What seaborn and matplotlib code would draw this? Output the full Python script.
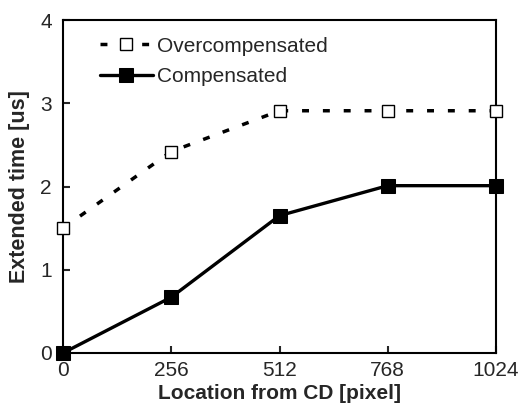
import matplotlib
matplotlib.use('Agg')
import matplotlib.pyplot as plt
import seaborn as sns
import pandas as pd

# data
location = [0, 256, 512, 768, 1024]
overcompensated = [1.50, 2.42, 2.91, 2.91, 2.91]
compensated = [0.0, 0.67, 1.65, 2.01, 2.01]
x_ticks = [0, 256, 512, 768, 1024]
y_ticks = [0, 1, 2, 3, 4]

df = pd.DataFrame({'loc': location, 'over': overcompensated, 'comp': compensated})

sns.set_style('ticks')
plt.rcParams['font.family'] = ['Liberation Sans', 'DejaVu Sans']

fig, ax = plt.subplots(figsize=(5.19, 4.05), dpi=100)

# dashed line with open squares
sns.lineplot(data=df, x='loc', y='over', ax=ax, color='black', linewidth=2.5,
             linestyle=(0, (2, 4)), marker='s', markersize=9,
             markerfacecolor='white', markeredgecolor='black', markeredgewidth=1,
             label='Overcompensated', clip_on=False, zorder=3)
# solid line with filled squares
sns.lineplot(data=df, x='loc', y='comp', ax=ax, color='black', linewidth=2.4,
             marker='s', markersize=10, markerfacecolor='black',
             markeredgecolor='black', label='Compensated', clip_on=False, zorder=3)

ax.set_xlim(0, 1024)
ax.set_ylim(0, 4)
ax.set_xticks(x_ticks)
ax.set_yticks(y_ticks)
ax.tick_params(direction='in', length=5, width=1.5, labelsize=15)
ax.tick_params(axis='x', pad=6)
ax.tick_params(axis='y', pad=8)
for s in ax.spines.values():
    s.set_linewidth(1.5)
    s.set_color('black')

ax.set_xlabel('Location from CD [pixel]', fontsize=15, fontweight='bold')
ax.set_ylabel('Extended time [us]', fontsize=15.5, fontweight='bold')
ax.xaxis.set_label_coords(0.499, -0.093)
ax.yaxis.set_label_coords(-0.077, 0.5)

ax.legend(loc='upper left', frameon=False, fontsize=15, handlelength=2.55,
          handletextpad=0.2, borderaxespad=0.0, labelspacing=0.55,
          bbox_to_anchor=(0.066, 0.975))

fig.subplots_adjust(left=0.1214, right=0.9557, top=0.9506, bottom=0.1284)
plt.savefig('out.png', dpi=100)
plt.close(fig)
